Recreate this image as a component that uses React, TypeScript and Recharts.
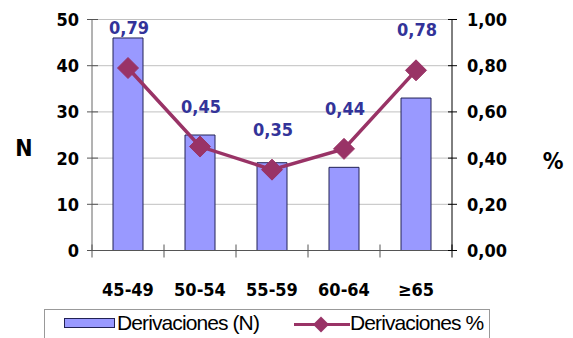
import React from 'react';
import { ComposedChart, Bar, Line, XAxis, YAxis, CartesianGrid, LabelList } from 'recharts';

const categories = ['45-49', '50-54', '55-59', '60-64', '≥65'];
const countValues = [46, 25, 19, 18, 33];
const pctValues = [0.79, 0.45, 0.35, 0.44, 0.78];
const leftTicks = [0, 10, 20, 30, 40, 50];
const rightTicks = [0, 0.2, 0.4, 0.6, 0.8, 1];

const data = categories.map((c, i) => ({ cat: c, n: countValues[i], pct: pctValues[i] }));

const axisFont = "'DejaVu Sans Condensed', 'DejaVu Sans', sans-serif";
const legendFont = "'Liberation Sans', Arial, sans-serif";
const barFill = '#9999FF';
const lineColor = '#993366';
const labelColor = '#333399';

const fmt = (v: number) => v.toFixed(2).replace('.', ',');

const LeftTick = (props: any) => {
  const { x, y, payload } = props;
  return (
    <g>
      <line x1={x - 5} x2={x + 6} y1={y} y2={y} stroke="#555" />
      <text x={x - 13} y={y + 6.5} textAnchor="end" fontFamily={axisFont} fontWeight="bold" fontSize={18} fill="#000">
        {payload.value}
      </text>
    </g>
  );
};

const RightTick = (props: any) => {
  const { x, y, payload } = props;
  return (
    <g>
      <line x1={x - 4} x2={x + 5} y1={y} y2={y} stroke="#000" />
      <text x={x + 15} y={y + 6.5} textAnchor="start" fontFamily={axisFont} fontWeight="bold" fontSize={18} fill="#000">
        {fmt(payload.value)}
      </text>
    </g>
  );
};

const BottomTick = (props: any) => {
  const { x, y, payload, index } = props;
  const half = payload.offset || 36;
  return (
    <g>
      <line x1={x - half} x2={x - half} y1={y - 6} y2={y + 7} stroke="#555" />
      {index === categories.length - 1 && (
        <line x1={x + half} x2={x + half} y1={y - 6} y2={y + 7} stroke="#000" />
      )}
      <text x={x} y={y + 45} textAnchor="middle" fontFamily={axisFont} fontWeight="bold" fontSize={18} fill="#000">
        {payload.value}
      </text>
    </g>
  );
};

const Diamond = (props: any) => {
  const { cx, cy } = props;
  if (cx == null || cy == null) return null;
  const r = 10.5;
  return (
    <polygon
      points={`${cx},${cy - r} ${cx + r},${cy} ${cx},${cy + r} ${cx - r},${cy}`}
      fill={lineColor}
      stroke={lineColor}
    />
  );
};

const PctLabel = (props: any) => {
  const { x, y, value } = props;
  return (
    <text x={x + 1} y={y - 34} textAnchor="middle" fontFamily={axisFont} fontWeight="bold" fontSize={18} fill={labelColor}>
      {fmt(value)}
    </text>
  );
};

const App = () => (
  <div style={{ position: 'absolute', left: 0, top: 0, width: 573, height: 338, overflow: 'hidden', background: '#fff' }}>
    <ComposedChart width={573} height={338} data={data} margin={{ top: 19.5, right: 0, left: 0, bottom: 0 }}>
      <CartesianGrid yAxisId="left" vertical={false} stroke="#c0c0c0" />
      <XAxis
        dataKey="cat"
        height={87.5}
        tickLine={false}
        tickSize={0}
        tickMargin={0}
        stroke="#555"
        tick={<BottomTick />}
        interval={0}
      />
      <YAxis
        yAxisId="left"
        width={92}
        domain={[0, 50]}
        ticks={leftTicks}
        tickLine={false}
        tickSize={0}
        tickMargin={0}
        stroke="#666"
        tick={<LeftTick />}
        label={{
          content: () => (
            <text x={24} y={156} textAnchor="middle" fontFamily={axisFont} fontWeight="bold" fontSize={23} fill="#000">
              N
            </text>
          ),
        }}
      />
      <YAxis
        yAxisId="right"
        orientation="right"
        width={121}
        domain={[0, 1]}
        ticks={rightTicks}
        tickLine={false}
        tickSize={0}
        tickMargin={0}
        stroke="#000"
        tick={<RightTick />}
        label={{
          content: () => (
            <text x={553} y={169} textAnchor="middle" fontFamily={axisFont} fontWeight="bold" fontSize={23} fill="#000">
              %
            </text>
          ),
        }}
      />
      <Bar yAxisId="left" dataKey="n" barSize={30} fill={barFill} stroke="#222255" strokeWidth={1} isAnimationActive={false} />
      <Line
        yAxisId="right"
        dataKey="pct"
        stroke={lineColor}
        strokeWidth={3.5}
        dot={<Diamond />}
        activeDot={false}
        isAnimationActive={false}
      >
        <LabelList dataKey="pct" content={<PctLabel />} />
      </Line>
    </ComposedChart>
    <div
      style={{
        position: 'absolute',
        left: 44,
        top: 309,
        width: 446,
        height: 40,
        border: '1px solid #999',
        boxSizing: 'border-box',
        fontFamily: legendFont,
        fontSize: 21,
        letterSpacing: -0.9,
        color: '#000',
      }}
    >
      <div style={{ position: 'absolute', left: 19, top: 8, width: 49, height: 8, background: barFill, border: '1px solid #222255' }} />
      <span style={{ position: 'absolute', left: 72, top: 1, whiteSpace: 'nowrap', lineHeight: '24px' }}>Derivaciones (N)</span>
      <svg style={{ position: 'absolute', left: 248, top: 3 }} width={58} height={22}>
        <line x1={1} x2={57} y1={11.5} y2={11.5} stroke={lineColor} strokeWidth={3} />
        <polygon points="28,3.5 36,11.5 28,19.5 20,11.5" fill={lineColor} />
      </svg>
      <span style={{ position: 'absolute', left: 305, top: 1, whiteSpace: 'nowrap', lineHeight: '24px' }}>Derivaciones %</span>
    </div>
  </div>
);

export default App;
